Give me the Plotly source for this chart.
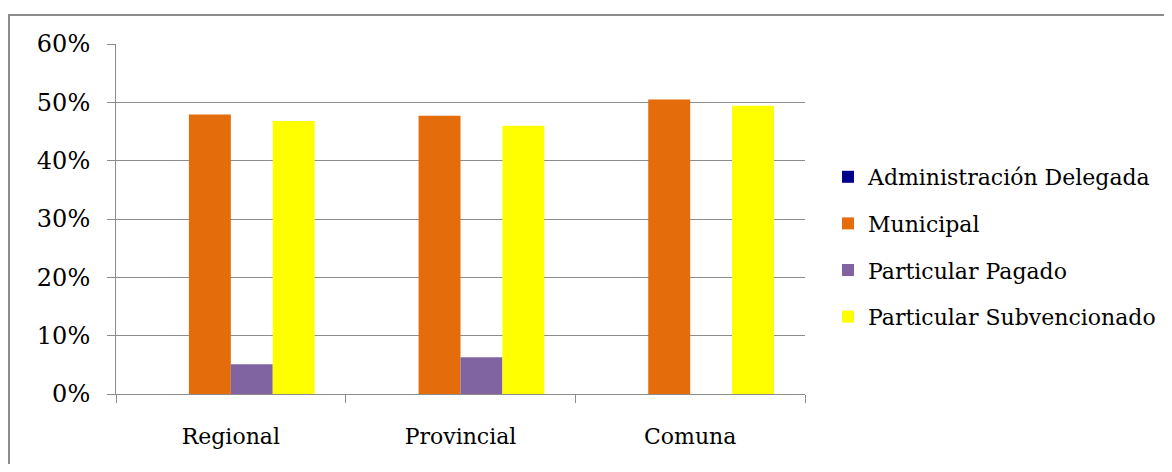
import plotly.graph_objects as go

categories = ["Regional", "Provincial", "Comuna"]
series_names = ["Administración Delegada", "Municipal", "Particular Pagado", "Particular Subvencionado"]
admin_delegada = [0.0, 0.0, 0.0]
municipal = [47.9, 47.7, 50.5]
particular_pagado = [5.1, 6.3, 0.0]
particular_subvencionado = [46.8, 46.0, 49.4]
colors = ["#00008B", "#E46C0A", "#8064A2", "#FFFF00"]
y_ticks = [0, 10, 20, 30, 40, 50, 60]
y_tick_labels = ["0%", "10%", "20%", "30%", "40%", "50%", "60%"]

values = [admin_delegada, municipal, particular_pagado, particular_subvencionado]

OFF = 8  # page body margin
W, H = 1172 - OFF, 472 - 2 * OFF
# plot area in page pixels: x 116..805, y 44..394
L, R, T, B = 116 - OFF, W - (805 - OFF), 44 - OFF, H - (394 - OFF)
FONT = "DejaVu Serif"

fig = go.Figure()
for i, (name, vals, col) in enumerate(zip(series_names, values, colors)):
    fig.add_trace(go.Bar(
        x=categories, y=vals, name=name, marker=dict(color=col, line=dict(width=0)),
        legendgroup=str(i),
    ))

pw = W - L - R
ph = H - T - B
def px_x(x):
    return (x - OFF - L) / pw
def px_y(y):
    return (H - B - (y - OFF)) / ph

fig.add_shape(type="rect", xref="paper", yref="paper",
              x0=px_x(9), x1=px_x(1190), y0=px_y(490), y1=px_y(15),
              line=dict(color="#8C8C8C", width=2), fillcolor="rgba(0,0,0,0)", layer="below")

fig.update_layout(
    width=W, height=H,
    margin=dict(l=L, r=R, t=T, b=B, pad=0, autoexpand=False),
    paper_bgcolor="white", plot_bgcolor="white",
    barmode="group", bargap=0.27, bargroupgap=0,
    font=dict(family=FONT, size=22, color="black"),
    showlegend=True,
    legend=dict(x=px_x(828), y=px_y(156), xanchor="left", yanchor="top",
                traceorder="grouped", tracegroupgap=15,
                font=dict(family=FONT, size=22, color="black"),
                bgcolor="rgba(0,0,0,0)"),
    xaxis=dict(showline=True, linecolor="#8C8C8C", linewidth=1,
               ticks="outside", tickson="boundaries", ticklen=8, tickcolor="#8C8C8C",
               showgrid=False, tickfont=dict(family=FONT, size=22, color="black"), ticklabelstandoff=23),
    yaxis=dict(range=[0, 60], tickvals=y_ticks, ticktext=y_tick_labels,
               showline=True, linecolor="#8C8C8C", linewidth=1,
               ticks="outside", ticklen=8, tickcolor="#8C8C8C",
               showgrid=True, gridcolor="#8C8C8C", gridwidth=1, zeroline=False,
               tickfont=dict(family=FONT, size=24, color="black"), ticklabelstandoff=12),
)

fig.write_html("out.html")
